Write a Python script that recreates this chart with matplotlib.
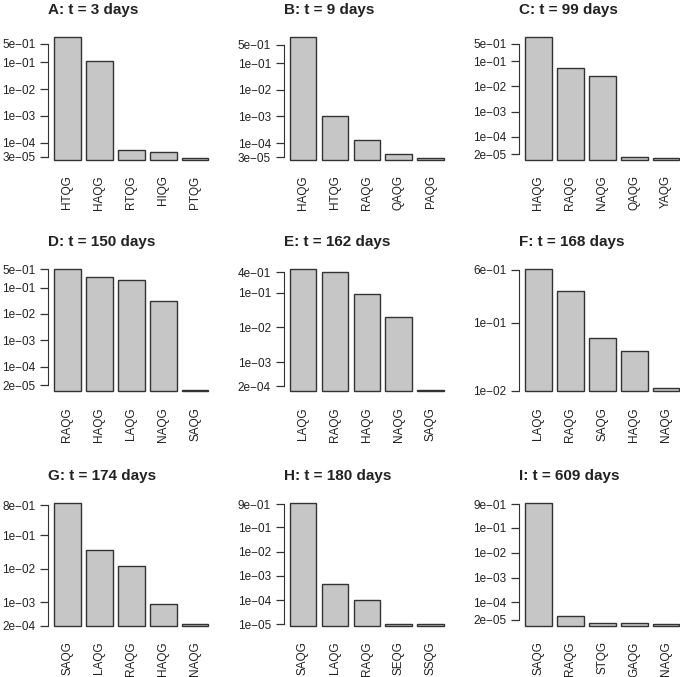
import numpy as np
import matplotlib
matplotlib.use('Agg')
from matplotlib import pyplot as plt
from matplotlib.ticker import NullLocator

# panel data (frequencies)
panel_ids = ['A', 'B', 'C', 'D', 'E', 'F', 'G', 'H', 'I']
days = [3, 9, 99, 150, 162, 168, 174, 180, 609]
genotypes = [
    ['HTQG', 'HAQG', 'RTQG', 'HIQG', 'PTQG'],
    ['HAQG', 'HTQG', 'RAQG', 'QAQG', 'PAQG'],
    ['HAQG', 'RAQG', 'NAQG', 'QAQG', 'YAQG'],
    ['RAQG', 'HAQG', 'LAQG', 'NAQG', 'SAQG'],
    ['LAQG', 'RAQG', 'HAQG', 'NAQG', 'SAQG'],
    ['LAQG', 'RAQG', 'SAQG', 'HAQG', 'NAQG'],
    ['SAQG', 'LAQG', 'RAQG', 'HAQG', 'NAQG'],
    ['SAQG', 'LAQG', 'RAQG', 'SEQG', 'SSQG'],
    ['SAQG', 'RAQG', 'STQG', 'GAQG', 'NAQG'],
]
freqs = [
    [0.855, 0.112, 5.3e-05, 4.4e-05, 2.6e-05],
    [0.94, 1.06e-03, 1.33e-04, 3.9e-05, 2.7e-05],
    [0.91, 0.053, 0.0257, 1.6e-05, 1.37e-05],
    [0.506, 0.26, 0.195, 0.0305, 1.3e-05],
    [0.49, 0.41, 0.0936, 0.0203, 1.6e-04],
    [0.616, 0.29, 0.060, 0.039, 0.011],
    [0.92, 0.038, 0.0119, 8.7e-04, 2.25e-04],
    [0.98, 4.5e-04, 9.7e-05, 1.05e-05, 1.0e-05],
    [0.98, 2.8e-05, 1.5e-05, 1.45e-05, 1.3e-05],
]
yticks = [
    [3e-05, 1e-04, 1e-03, 1e-02, 1e-01, 5e-01],
    [3e-05, 1e-04, 1e-03, 1e-02, 1e-01, 5e-01],
    [2e-05, 1e-04, 1e-03, 1e-02, 1e-01, 5e-01],
    [2e-05, 1e-04, 1e-03, 1e-02, 1e-01, 5e-01],
    [2e-04, 1e-03, 1e-02, 1e-01, 4e-01],
    [1e-02, 1e-01, 6e-01],
    [2e-04, 1e-03, 1e-02, 1e-01, 8e-01],
    [1e-05, 1e-04, 1e-03, 1e-02, 1e-01, 9e-01],
    [2e-05, 1e-04, 1e-03, 1e-02, 1e-01, 9e-01],
]

plt.rcParams['font.family'] = ['Liberation Sans', 'DejaVu Sans']
txt_col = '#222222'

W, H = 680, 677
fig = plt.figure(figsize=(W / 100, H / 100), dpi=100)

col_left = [48, 283.5, 519]
row_top = [32.4, 264.1, 498.4]
ax_w, ax_h = 166.6, 132

for k in range(9):
    r, c = divmod(k, 3)
    ax = fig.add_axes([col_left[c] / W, 1 - (row_top[r] + ax_h) / H, ax_w / W, ax_h / H])
    vals = np.array(freqs[k])
    base = 0.9 * vals.min()  # R barplot rectbase on log axis
    x = 0.7 + 1.2 * np.arange(len(vals))
    ax.bar(x, vals - base, bottom=base, width=1.0, color='#c6c6c6',
           edgecolor='#333333', linewidth=1.0)
    ax.set_yscale('log')
    lo, hi = np.log10(base), np.log10(vals.max())
    pad = 0.04 * (hi - lo)
    ax.set_ylim(10 ** (lo - pad), 10 ** (hi + pad))
    ax.set_xlim(-0.032, 6.232)

    ax.set_yticks(yticks[k])
    ax.set_yticklabels(['{:.0e}'.format(t).replace('-', '\u2212') for t in yticks[k]])
    ax.yaxis.set_minor_locator(NullLocator())
    ax.set_xticks(x)
    ax.set_xticklabels(genotypes[k], rotation=90, ha='center', va='top')

    for s in ['top', 'right', 'bottom']:
        ax.spines[s].set_visible(False)
    ax.spines['left'].set_bounds(min(yticks[k]), max(yticks[k]))
    ax.spines['left'].set_color('#333333')
    ax.tick_params(axis='y', length=5.5, width=0.9, pad=3.6, labelsize=8.5,
                   color='#333333', labelcolor=txt_col)
    ax.tick_params(axis='x', length=0, pad=7.9, labelsize=8.5, labelcolor=txt_col)
    ax.set_title('%s: t = %d days' % (panel_ids[k], days[k]), loc='left',
                 fontsize=11, fontweight='bold', pad=13, color=txt_col)

fig.savefig('out.png', dpi=100)
